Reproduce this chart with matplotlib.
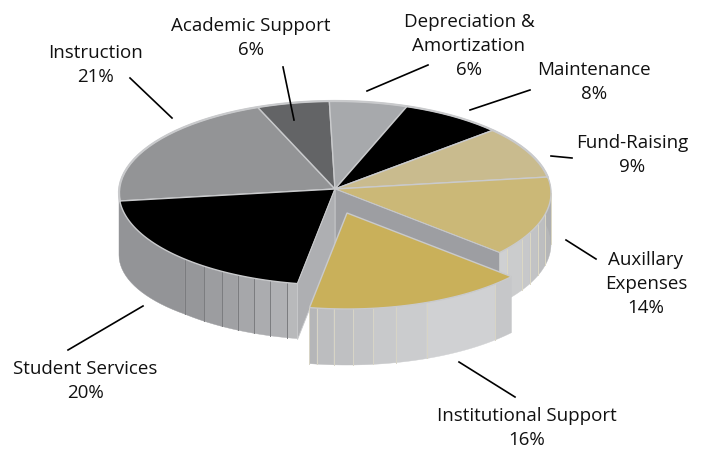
import numpy as np
import matplotlib
matplotlib.use("Agg")
import matplotlib.pyplot as plt

names = ["Instruction", "Academic Support", "Depreciation &\nAmortization", "Maintenance",
         "Fund-Raising", "Auxillary\nExpenses", "Institutional Support", "Student Services"]
shares = [21, 6, 6, 8, 9, 14, 16, 20]
top_colors = ["#939496", "#636466", "#a7a9ac", "#000000", "#c9bb8e", "#cbb877", "#c9b05a", "#000000"]

label_x = [95, 251, 469, 594, 632, 646, 527, 85]
label_y = [65, 38, 46, 82, 155, 284, 428, 381]
leaders = [((130, 78), (172, 118)), ((283, 67), (294, 120)), ((367, 91), (428, 65)), ((470, 110), (530, 90)),
           ((551, 156), (572, 158)), ((566, 240), (596, 259)), ((459, 362), (515, 397)), ((143, 306), (68, 350))]

plt.rcParams['font.family'] = ['Open Sans', 'DejaVu Sans']

# ellipse of the pie top, in pixels
cx, cy = 335, 193
rx, ry = 216, 92
apex = (335, 189)
depth = 56
pull = (12, 24)  # the institutional slice is pulled out
edge = "#c9cacc"

def arc(t0, t1, dx=0, dy=0, n=60):
	t = np.radians(np.linspace(t0, t1, n))
	return cx + rx*np.cos(t) + dx, cy - ry*np.sin(t) + dy

def wall(ax, t0, t1, color, dx=0, dy=0, line=None, d0=depth, d1=depth, z=2):
	x, y = arc(t0, t1, dx, dy, 20)
	low = y + np.linspace(d0, d1, 20)
	ax.fill(np.r_[x, x[::-1]], np.r_[y, low[::-1]], color=color, lw=0.3, zorder=z)
	if line:
		ax.plot([x[0], x[0]], [y[0], low[0]], color=line, lw=0.7, zorder=z+0.1)

def top(ax, t0, t1, color, dx=0, dy=0, z=3):
	x, y = arc(t0, t1, dx, dy)
	ax.fill(np.r_[apex[0]+dx, x], np.r_[apex[1]+dy, y], facecolor=color, edgecolor=edge, lw=1.0, zorder=z)

fig = plt.figure(figsize=(7.06, 4.5), dpi=100)
ax = fig.add_axes([0, 0, 1, 1])
ax.set_xlim(0, 706)
ax.set_ylim(450, 0)
ax.axis("off")

# the artwork is not quite true to the shares, small corrections per boundary
nudge = [-5, -3.4, -1.3, -0.7, 0.6, 0, 0, -2, -5]
bounds = 190 - np.r_[0, np.cumsum(shares)]*3.6 + np.array(nudge)
inst = names.index("Institutional Support")
aux = names.index("Auxillary\nExpenses")
stud = names.index("Student Services")

# outer wall on the left
wall(ax, -180, -134, "#939497", d0=62, d1=55)
student_steps = [-134, -127.3, -121.5, -116.7, -112, -107.5, -102.8, bounds[stud]]
student_cols = ["#96979a", "#9c9da0", "#a0a1a4", "#a6a7aa", "#abacaf", "#b0b1b4", "#b8b9bb"]
for i in range(len(student_cols)):
	wall(ax, student_steps[i], student_steps[i+1], student_cols[i], line="#7b7c7f", d0=55, d1=55)

# outer wall on the right
aux_steps = [bounds[aux+1], -37.2, -30, -25.5, -20, -13.5, 0, 12]
aux_cols = ["#cfd0d2", "#cbcccd", "#c7c8ca", "#c2c3c5", "#bdbec0", "#b5b6b8", "#adaeb0"]
for i in range(len(aux_cols)):
	wall(ax, aux_steps[i], aux_steps[i+1], aux_cols[i], line="#dcd8c4", d0=51, d1=51)

# top faces
for i in range(len(shares)):
	if i != inst:
		top(ax, bounds[i], bounds[i+1], top_colors[i])

# back rim is a bit heavier
bx, by = arc(bounds[0], bounds[aux])
ax.plot(bx, by, color=edge, lw=1.6, zorder=3.2)

# cut faces seen through the gap
for t, col in ((bounds[inst], "#9d9ea2"), (bounds[inst+1], "#aeafb2")):
	x, y = arc(t, t)
	ax.fill([apex[0], x[0], x[0], apex[0]], [apex[1], y[0], y[0]+depth, apex[1]+depth],
		facecolor=col, edgecolor=edge, lw=0.6, zorder=3.5)

# pulled out slice
inst_steps = [bounds[inst+1], -98, -93.5, -88.4, -83, -76.9, -68.3, -46.7, bounds[inst]]
inst_cols = ["#b5b6b8", "#bcbdbf", "#bfc0c2", "#c3c4c6", "#c8c9cb", "#cbccce", "#d0d1d3", "#c6c7c9"]
for i in range(len(inst_cols)):
	wall(ax, inst_steps[i], inst_steps[i+1], inst_cols[i], pull[0], pull[1], line="#d8d5c6", z=4)
top(ax, bounds[inst], bounds[inst+1], top_colors[inst], pull[0], pull[1], z=5)

for (p0, p1) in leaders:
	ax.plot([p0[0], p1[0]], [p0[1], p1[1]], color="black", lw=1.2, zorder=6)

for i in range(len(names)):
	ax.text(label_x[i], label_y[i], f"{names[i]}\n{shares[i]}%", ha="center", va="center",
		fontsize=13.5, linespacing=1.42, color="#111111", zorder=7)

fig.savefig("out.png", dpi=100)
